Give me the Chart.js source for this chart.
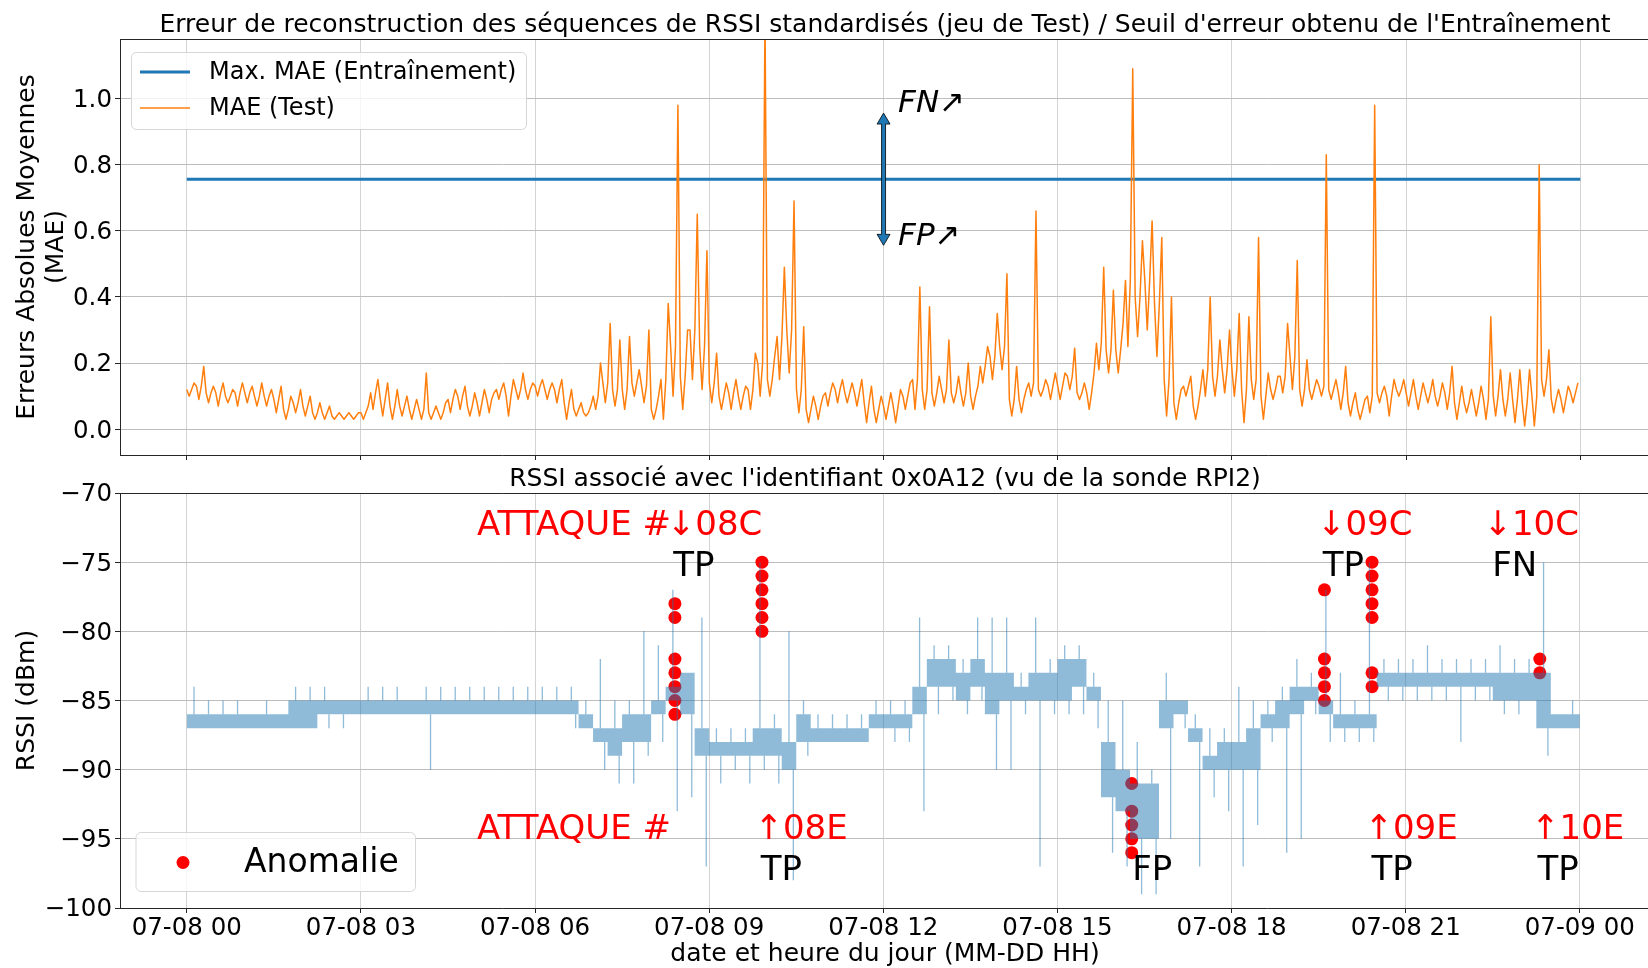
<!DOCTYPE html>
<html>
<head>
<meta charset="utf-8">
<title>Erreur de reconstruction RSSI</title>
<script src="https://cdn.jsdelivr.net/npm/chart.js@4.4.1/dist/chart.umd.min.js"></script>
<style>
    html, body { margin: 0; padding: 0; background: #fff; overflow: hidden; }
    .wrap { position: relative; width: 1648px; height: 968px; overflow: hidden; }
    canvas { position: absolute; left: 0; top: 0; }
</style>
</head>
<body>
<div class="wrap">
    <canvas id="maeChart" width="1656" height="968" style="width:1656px;height:968px"></canvas>
    <canvas id="rssiChart" width="1656" height="968" style="width:1656px;height:968px"></canvas>
</div>
<script>
const FONT = "DejaVu Sans"
Chart.defaults.font.family = FONT
Chart.defaults.color = "#000"

// axes
const hourTicks = [0, 3, 6, 9, 12, 15, 18, 21, 24]
const hourLabels = ["07-08 00", "07-08 03", "07-08 06", "07-08 09", "07-08 12", "07-08 15", "07-08 18", "07-08 21", "07-09 00"]
const maeTicks = [0, 0.2, 0.4, 0.6, 0.8, 1.0]
const rssiTicks = [-100, -95, -90, -85, -80, -75, -70]

// seuil d'erreur (max MAE sur l'entrainement)
const maxMaeTrain = 0.756

// MAE test, bins de 10 min (une ligne = une heure) : niveau courant, creux et pic de chaque bin
const maeMid = [
    0.12, 0.13, 0.11, 0.11, 0.10, 0.11,
    0.11, 0.10, 0.10, 0.09, 0.06, 0.08,
    0.07, 0.05, 0.05, 0.04, 0.04, 0.04,
    0.05, 0.11, 0.09, 0.07, 0.07, 0.06,
    0.06, 0.05, 0.05, 0.09, 0.10, 0.07,
    0.08, 0.09, 0.12, 0.10, 0.12, 0.12,
    0.13, 0.12, 0.12, 0.08, 0.06, 0.05,
    0.10, 0.14, 0.12, 0.12, 0.14, 0.13,
    0.06, 0.15, 0.25, 0.16, 0.30, 0.25,
    0.14, 0.10, 0.11, 0.10, 0.12, 0.20,
    0.15, 0.28, 0.30, 0.12, 0.06, 0.07,
    0.11, 0.12, 0.11, 0.11, 0.08, 0.06,
    0.07, 0.07, 0.10, 0.15, 0.12, 0.11,
    0.12, 0.11, 0.11, 0.10, 0.19, 0.22,
    0.25, 0.09, 0.09, 0.14, 0.12, 0.13,
    0.13, 0.16, 0.11, 0.11, 0.26, 0.24,
    0.24, 0.45, 0.40, 0.45, 0.38, 0.15,
    0.08, 0.13, 0.07, 0.18, 0.16, 0.18,
    0.18, 0.12, 0.15, 0.10, 0.12, 0.16,
    0.22, 0.12, 0.12, 0.13, 0.12, 0.11,
    0.08, 0.06, 0.10, 0.11, 0.10, 0.12,
    0.11, 0.10, 0.11, 0.10, 0.11, 0.08,
    0.08, 0.08, 0.09, 0.10, 0.09, 0.09,
    0.08, 0.10, 0.15, 0.09, 0.09, 0.11
]
const maeLow = [
    0.10, 0.09, 0.08, 0.07, 0.08, 0.07,
    0.08, 0.07, 0.07, 0.05, 0.03, 0.05,
    0.04, 0.03, 0.03, 0.03, 0.03, 0.03,
    0.03, 0.06, 0.04, 0.03, 0.04, 0.03,
    0.03, 0.03, 0.03, 0.05, 0.06, 0.04,
    0.04, 0.05, 0.09, 0.04, 0.09, 0.09,
    0.10, 0.09, 0.08, 0.03, 0.04, 0.04,
    0.06, 0.08, 0.07, 0.06, 0.10, 0.08,
    0.03, 0.03, 0.10, 0.06, 0.15, 0.12,
    0.08, 0.06, 0.06, 0.06, 0.06, 0.10,
    0.10, 0.15, 0.17, 0.05, 0.02, 0.03,
    0.07, 0.08, 0.08, 0.07, 0.02, 0.02,
    0.03, 0.02, 0.06, 0.06, 0.06, 0.07,
    0.08, 0.08, 0.07, 0.06, 0.14, 0.15,
    0.18, 0.04, 0.05, 0.10, 0.10, 0.09,
    0.09, 0.12, 0.09, 0.06, 0.18, 0.17,
    0.17, 0.25, 0.28, 0.30, 0.22, 0.04,
    0.03, 0.10, 0.03, 0.10, 0.10, 0.11,
    0.10, 0.02, 0.09, 0.03, 0.09, 0.11,
    0.12, 0.07, 0.09, 0.10, 0.09, 0.06,
    0.04, 0.03, 0.05, 0.08, 0.04, 0.10,
    0.07, 0.06, 0.08, 0.07, 0.06, 0.03,
    0.05, 0.04, 0.03, 0.04, 0.04, 0.02,
    0.01, 0.01, 0.10, 0.05, 0.05, 0.08
]
const maeHigh = [
    0.14, 0.19, 0.13, 0.14, 0.12, 0.14,
    0.13, 0.14, 0.12, 0.13, 0.10, 0.12,
    0.10, 0.08, 0.07, 0.05, 0.05, 0.05,
    0.07, 0.15, 0.14, 0.12, 0.10, 0.09,
    0.17, 0.07, 0.08, 0.12, 0.13, 0.11,
    0.12, 0.11, 0.14, 0.15, 0.17, 0.14,
    0.15, 0.14, 0.15, 0.12, 0.08, 0.07,
    0.20, 0.32, 0.27, 0.28, 0.18, 0.30,
    0.10, 0.38, 0.98, 0.30, 0.65, 0.54,
    0.23, 0.14, 0.15, 0.13, 0.23, 1.25,
    0.22, 0.49, 0.69, 0.31, 0.10, 0.10,
    0.14, 0.15, 0.14, 0.15, 0.13, 0.10,
    0.11, 0.12, 0.14, 0.43, 0.37, 0.16,
    0.27, 0.16, 0.20, 0.13, 0.25, 0.35,
    0.47, 0.19, 0.12, 0.66, 0.15, 0.17,
    0.17, 0.245, 0.14, 0.17, 0.49, 0.42,
    0.32, 1.09, 0.57, 0.63, 0.58, 0.40,
    0.12, 0.16, 0.12, 0.40, 0.27, 0.30,
    0.35, 0.34, 0.58, 0.17, 0.16, 0.32,
    0.51, 0.21, 0.15, 0.83, 0.15, 0.19,
    0.11, 0.09, 0.98, 0.13, 0.15, 0.15,
    0.15, 0.14, 0.15, 0.14, 0.19, 0.13,
    0.12, 0.13, 0.34, 0.18, 0.17, 0.18,
    0.18, 0.80, 0.24, 0.12, 0.13, 0.14
]

// RSSI (dBm), bins de 15 min : bande dense haut/bas + extremes (pics)
const rssiTop = [
    -86, -86, -86, -86,   -86, -86, -86, -85,   -85, -85, -85, -85,   -85, -85, -85, -85,
    -85, -85, -85, -85,   -85, -85, -85, -85,   -85, -85, -85, -86,   -87, -87, -86, -86,
    -85, -84, -83, -87,   -88, -88, -88, -87,   -87, -88, -86, -87,   -87, -87, -87, -86,
    -86, -86, -84, -82,   -82, -83, -82, -83,   -83, -84, -83, -83,   -82, -82, -84, -88,
    -90, -91, -91, -85,   -85, -87, -89, -88,   -88, -87, -86, -85,   -84, -84, -85, -86,
    -86, -86, -83, -83,   -83, -83, -83, -83,   -83, -83, -83, -83,   -83, -83, -86, -86
]
const rssiBottom = [
    -87, -87, -87, -87,   -87, -87, -87, -87,   -87, -86, -86, -86,   -86, -86, -86, -86,
    -86, -86, -86, -86,   -86, -86, -86, -86,   -86, -86, -86, -87,   -88, -89, -88, -88,
    -86, -85, -86, -89,   -89, -89, -89, -89,   -89, -90, -88, -88,   -88, -88, -88, -87,
    -87, -87, -86, -84,   -84, -85, -84, -86,   -85, -85, -85, -85,   -85, -84, -85, -92,
    -93, -95, -95, -87,   -86, -88, -90, -90,   -90, -90, -87, -87,   -86, -85, -86, -87,
    -87, -87, -84, -84,   -84, -84, -84, -84,   -84, -84, -85, -85,   -85, -87, -87, -87
]
const rssiMax = [
    -84, -85, -85, -85,   -86, -85, -86, -84,   -84, -84, -85, -85,   -84, -84, -84, -85,
    -84, -84, -84, -84,   -84, -84, -84, -84,   -84, -84, -84, -85,   -82, -85, -85, -80,
    -81, -77, -83, -79,   -87, -87, -87, -75,   -86, -80, -85, -86,   -86, -86, -86, -85,
    -85, -85, -79, -81,   -81, -82, -79, -79,   -79, -83, -79, -82,   -81, -81, -83, -85,
    -85, -88, -90, -83,   -85, -86, -87, -87,   -84, -85, -85, -84,   -82, -83, -77, -83,
    -85, -75, -82, -82,   -82, -81, -82, -82,   -82, -82, -81, -82,   -82, -75, -86, -85
]
const rssiMin = [
    -87, -87, -87, -87,   -87, -87, -87, -87,   -87, -87, -87, -86,   -86, -86, -86, -86,
    -90, -86, -86, -86,   -86, -86, -86, -86,   -86, -86, -87, -87,   -90, -91, -91, -89,
    -88, -93, -92, -97,   -91, -90, -91, -90,   -91, -98, -89, -88,   -88, -88, -88, -87,
    -88, -88, -93, -86,   -85, -86, -85, -90,   -90, -86, -97, -86,   -86, -86, -87, -96,
    -97, -99, -99, -95,   -87, -97, -92, -93,   -97, -94, -88, -96,   -95, -86, -88, -88,
    -88, -88, -85, -85,   -85, -85, -85, -88,   -85, -85, -86, -86,   -85, -89, -87, -87
]

// anomalies detectees (heure, RSSI)
const anomalyHours = [
    8.41, 8.41, 8.41, 8.41, 8.41, 8.41, 8.41,
    9.91, 9.91, 9.91, 9.91, 9.91, 9.91,
    16.28, 16.28, 16.28, 16.28, 16.28,
    19.60, 19.60, 19.60, 19.60, 19.60,
    20.42, 20.42, 20.42, 20.42, 20.42, 20.42, 20.42,
    23.31, 23.31
]
const anomalyRssi = [
    -78, -79, -82, -83, -84, -85, -86,
    -75, -76, -77, -78, -79, -80,
    -91, -93, -94, -95, -96,
    -77, -82, -83, -84, -85,
    -75, -76, -77, -78, -79, -83, -84,
    -82, -83
]

// textes d'attaque
const attackNotes = [
    { text: "ATTAQUE #", hour: 5.0, rssi: -73, color: "#ff0000" },
    { text: "\u219308C", hour: 8.27, rssi: -73, color: "#ff0000" },
    { text: "TP", hour: 8.38, rssi: -76, color: "#000" },
    { text: "ATTAQUE #", hour: 5.0, rssi: -95, color: "#ff0000" },
    { text: "\u219108E", hour: 9.78, rssi: -95, color: "#ff0000" },
    { text: "TP", hour: 9.89, rssi: -98, color: "#000" },
    { text: "FP", hour: 16.29, rssi: -98, color: "#000" },
    { text: "\u219309C", hour: 19.47, rssi: -73, color: "#ff0000" },
    { text: "TP", hour: 19.57, rssi: -76, color: "#000" },
    { text: "\u219109E", hour: 20.29, rssi: -95, color: "#ff0000" },
    { text: "TP", hour: 20.41, rssi: -98, color: "#000" },
    { text: "\u219310C", hour: 22.34, rssi: -73, color: "#ff0000" },
    { text: "FN", hour: 22.49, rssi: -76, color: "#000" },
    { text: "\u219110E", hour: 23.16, rssi: -95, color: "#ff0000" },
    { text: "TP", hour: 23.27, rssi: -98, color: "#000" }
]

// ---------- points pour Chart.js ----------
const maePoints = []
maeMid.forEach((mid, i) => {
    const t = i / 6
    maePoints.push(
        { x: t, y: mid },
        { x: t + 1 / 24, y: maeLow[i] },
        { x: t + 2 / 24, y: mid },
        { x: t + 3 / 24, y: maeHigh[i] }
    )
})

function stepPoints(arr) {
    const pts = arr.map((v, i) => ({ x: i / 4, y: v }))
    pts.push({ x: 24, y: arr[arr.length - 1] })
    return pts
}

const spikePoints = []
rssiMax.forEach((mx, i) => {
    const xUp = i / 4 + 0.125
    const xDown = i / 4 + 0.2
    if (mx > rssiTop[i]) spikePoints.push({ x: xUp, y: mx }, { x: xUp, y: rssiTop[i] }, { x: xUp, y: null })
    if (rssiMin[i] < rssiBottom[i]) spikePoints.push({ x: xDown, y: rssiBottom[i] }, { x: xDown, y: rssiMin[i] }, { x: xDown, y: null })
})

const anomalyPoints = anomalyHours.map((h, i) => ({ x: h, y: anomalyRssi[i] }))

// ---------- helpers ----------
const TICK_FONT = { family: FONT, size: 24.5 }
const LABEL_FONT = "25px " + FONT
const TITLE_FONT = "25px " + FONT
const NOTE_FONT = "34px " + FONT
const SPINE = "#262626"

function xScale(showLabels, height) {
    return {
        type: "linear",
        min: -1.15,
        max: 25.2,
        afterBuildTicks: s => { s.ticks = hourTicks.map(v => ({ value: v })) },
        afterFit: s => { s.height = height },
        ticks: {
            display: showLabels,
            font: TICK_FONT,
            color: "#000",
            padding: 1,
            maxRotation: 0,
            autoSkip: false,
            callback: (v, i) => hourLabels[i]
        },
        grid: { color: "#d3d3d3", lineWidth: 1, tickLength: 5, tickColor: SPINE, tickWidth: 1 },
        border: { color: SPINE, width: 1, z: 1 }
    }
}

function yScale(min, max, ticks, fmt) {
    return {
        type: "linear",
        min: min,
        max: max,
        afterBuildTicks: s => { s.ticks = ticks.map(v => ({ value: v })) },
        afterFit: s => { s.width = 120 },
        ticks: { font: TICK_FONT, color: "#000", padding: 3, labelOffset: 2, callback: fmt },
        grid: { color: "#bdbdbd", lineWidth: 1, tickLength: 5, tickColor: SPINE, tickWidth: 1 },
        border: { color: SPINE, width: 1, z: 1 }
    }
}

function text(ctx, str, x, y, font, color, align, baseline) {
    ctx.save()
    ctx.font = font
    ctx.fillStyle = color
    ctx.textAlign = align || "left"
    ctx.textBaseline = baseline || "alphabetic"
    ctx.fillText(str, x, y)
    ctx.restore()
}

function vtext(ctx, str, x, y, font) {
    ctx.save()
    ctx.translate(x, y)
    ctx.rotate(-Math.PI / 2)
    ctx.font = font
    ctx.fillStyle = "#000"
    ctx.textAlign = "center"
    ctx.textBaseline = "alphabetic"
    ctx.fillText(str, 0, 0)
    ctx.restore()
}

function topSpine(chart) {
    const a = chart.chartArea
    const ctx = chart.ctx
    ctx.save()
    ctx.strokeStyle = SPINE
    ctx.lineWidth = 1
    ctx.beginPath()
    ctx.moveTo(a.left, a.top + 0.5)
    ctx.lineTo(a.right, a.top + 0.5)
    ctx.stroke()
    ctx.restore()
}

function legendBox(ctx, x, y, w, h) {
    ctx.save()
    ctx.beginPath()
    ctx.roundRect(x + 0.5, y + 0.5, w, h, 5)
    ctx.fillStyle = "rgba(255,255,255,0.8)"
    ctx.fill()
    ctx.strokeStyle = "#d6d6d6"
    ctx.lineWidth = 1
    ctx.stroke()
    ctx.restore()
}

// ---------- graphe du haut ----------
const maeDecor = {
    id: "maeDecor",
    afterDraw(chart) {
        const ctx = chart.ctx
        const xs = chart.scales.x
        const ys = chart.scales.y
        topSpine(chart)

        text(ctx, "Erreur de reconstruction des s\u00e9quences de RSSI standardis\u00e9s (jeu de Test) / Seuil d'erreur obtenu de l'Entra\u00eenement",
            885, 32, TITLE_FONT, "#000", "center")
        vtext(ctx, "Erreurs Absolues Moyennes", 34, 247, LABEL_FONT)
        vtext(ctx, "(MAE)", 63, 247, LABEL_FONT)

        // fleche double FN / FP
        const ax = xs.getPixelForValue(12)
        const yTop = ys.getPixelForValue(maxMaeTrain + 0.2)
        const yBot = ys.getPixelForValue(maxMaeTrain - 0.2)
        const hw = 2, hh = 6.5, hl = 11
        ctx.save()
        ctx.beginPath()
        ctx.moveTo(ax, yTop)
        ctx.lineTo(ax + hh, yTop + hl)
        ctx.lineTo(ax + hw, yTop + hl)
        ctx.lineTo(ax + hw, yBot - hl)
        ctx.lineTo(ax + hh, yBot - hl)
        ctx.lineTo(ax, yBot)
        ctx.lineTo(ax - hh, yBot - hl)
        ctx.lineTo(ax - hw, yBot - hl)
        ctx.lineTo(ax - hw, yTop + hl)
        ctx.lineTo(ax - hh, yTop + hl)
        ctx.closePath()
        ctx.fillStyle = "#1f77b4"
        ctx.fill()
        ctx.strokeStyle = "#000"
        ctx.lineWidth = 0.8
        ctx.stroke()
        ctx.restore()
        text(ctx, "FN\u2197", xs.getPixelForValue(12.25), ys.getPixelForValue(0.96), "italic 31px " + FONT, "#000")
        text(ctx, "FP\u2197", xs.getPixelForValue(12.25), ys.getPixelForValue(0.558), "italic 31px " + FONT, "#000")

        // legende
        legendBox(ctx, 131, 52, 395, 77)
        const rows = [73, 109]
        chart.data.datasets.forEach((ds, i) => {
            ctx.save()
            ctx.strokeStyle = ds.borderColor
            ctx.lineWidth = ds.borderWidth
            ctx.beginPath()
            ctx.moveTo(140, rows[i] - 1)
            ctx.lineTo(190, rows[i] - 1)
            ctx.stroke()
            ctx.restore()
            text(ctx, ds.label, 209, rows[i], "24px " + FONT, "#000", "left", "middle")
        })
    }
}

new Chart(document.getElementById("maeChart"), {
    type: "line",
    data: {
        datasets: [
            {
                label: "Max. MAE (Entra\u00eenement)",
                data: [{ x: 0, y: maxMaeTrain }, { x: 24, y: maxMaeTrain }],
                borderColor: "#1f77b4",
                borderWidth: 3,
                pointRadius: 0,
                order: 2
            },
            {
                label: "MAE (Test)",
                data: maePoints,
                borderColor: "#ff7f0e",
                borderWidth: 1.5,
                borderJoinStyle: "round",
                pointRadius: 0,
                order: 1
            }
        ]
    },
    options: {
        responsive: false,
        animation: false,
        devicePixelRatio: 1,
        layout: { padding: { top: 39, right: 6, left: 0, bottom: 0 } },
        plugins: { legend: { display: false }, tooltip: { enabled: false } },
        scales: {
            x: xScale(false, 968 - 455),
            y: yScale(-0.078, 1.18, maeTicks, v => v.toFixed(1))
        }
    },
    plugins: [maeDecor]
})

// ---------- graphe du bas ----------
const rssiDecor = {
    id: "rssiDecor",
    afterDraw(chart) {
        const ctx = chart.ctx
        const xs = chart.scales.x
        const ys = chart.scales.y
        topSpine(chart)

        text(ctx, "RSSI associ\u00e9 avec l'identifiant 0x0A12 (vu de la sonde RPI2)", 885, 486, TITLE_FONT, "#000", "center")
        vtext(ctx, "RSSI (dBm)", 34, 700.5, LABEL_FONT)
        text(ctx, "date et heure du jour (MM-DD HH)", 885, 961, LABEL_FONT, "#000", "center")

        attackNotes.forEach(n => {
            text(ctx, n.text, xs.getPixelForValue(n.hour), ys.getPixelForValue(n.rssi), NOTE_FONT, n.color)
        })

        // legende
        const dots = chart.data.datasets[3]
        legendBox(ctx, 135.5, 832, 279.5, 59)
        ctx.save()
        ctx.fillStyle = dots.pointBackgroundColor
        ctx.beginPath()
        ctx.arc(183, 862.5, dots.pointRadius, 0, Math.PI * 2)
        ctx.fill()
        ctx.restore()
        text(ctx, dots.label, 244, 872, "33px " + FONT, "#000")
    }
}

const rssiFill = "rgba(31,119,180,0.5)"

new Chart(document.getElementById("rssiChart"), {
    type: "line",
    data: {
        datasets: [
            {
                label: "RSSI haut",
                data: stepPoints(rssiTop),
                stepped: true,
                borderColor: "transparent",
                pointRadius: 0,
                fill: false,
                order: 2
            },
            {
                label: "RSSI",
                data: stepPoints(rssiBottom),
                stepped: true,
                borderColor: "transparent",
                backgroundColor: rssiFill,
                pointRadius: 0,
                fill: "-1",
                order: 2
            },
            {
                label: "RSSI pics",
                data: spikePoints,
                borderColor: rssiFill,
                borderWidth: 1.3,
                pointRadius: 0,
                spanGaps: false,
                order: 1
            },
            {
                label: "Anomalie",
                data: anomalyPoints,
                showLine: false,
                pointRadius: 6.5,
                pointBackgroundColor: "#ff0000",
                pointBorderColor: "#ff0000",
                pointBorderWidth: 0,
                order: 3
            }
        ]
    },
    options: {
        responsive: false,
        animation: false,
        devicePixelRatio: 1,
        layout: { padding: { top: 493, right: 6, left: 0, bottom: 0 } },
        plugins: { legend: { display: false }, tooltip: { enabled: false } },
        scales: {
            x: xScale(true, 968 - 908),
            y: yScale(-100, -70, rssiTicks, v => v < 0 ? "\u2212" + (-v) : String(v))
        }
    },
    plugins: [rssiDecor]
})
</script>
</body>
</html>
